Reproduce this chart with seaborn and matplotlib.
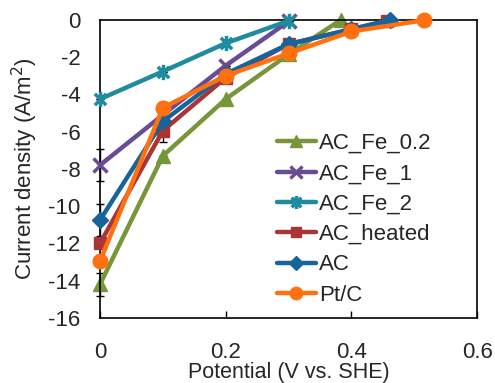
import matplotlib
matplotlib.use("Agg")
import matplotlib.pyplot as plt
import seaborn as sns
from matplotlib.path import Path

sns.set_style("white")
plt.rcParams["font.family"] = ["Liberation Sans", "DejaVu Sans"]

# ---- data ----
labels = ["AC_Fe_0.2", "AC_Fe_1", "AC_Fe_2", "AC_heated", "AC", "Pt/C"]

x_fe02 = [0.0, 0.1, 0.2, 0.3, 0.383]
y_fe02 = [-14.2, -7.3, -4.25, -1.85, 0.0]
e_fe02 = [0.6, 0.0, 0.0, 0.0, 0.0]

x_fe1 = [0.0, 0.1, 0.2, 0.3]
y_fe1 = [-7.8, -5.1, -2.45, -0.08]
e_fe1 = [0.85, 0.0, 0.0, 0.0]

x_fe2 = [0.0, 0.1, 0.2, 0.3]
y_fe2 = [-4.25, -2.77, -1.25, -0.05]
e_fe2 = [0.0, 0.0, 0.0, 0.0]

x_heat = [0.0, 0.1, 0.2, 0.3, 0.4, 0.457]
y_heat = [-12.0, -5.95, -3.1, -1.3, -0.5, -0.05]
e_heat = [0.0, 0.6, 0.0, 0.0, 0.0, 0.0]

x_ac = [0.0, 0.1, 0.2, 0.3, 0.4, 0.462]
y_ac = [-10.75, -5.45, -2.9, -1.3, -0.5, 0.0]
e_ac = [0.85, 0.0, 0.0, 0.0, 0.0, 0.0]

x_pt = [0.0, 0.1, 0.2, 0.3, 0.4, 0.515]
y_pt = [-12.95, -4.72, -3.0, -1.8, -0.62, -0.02]
e_pt = [0.0, 0.33, 0.0, 0.0, 0.0, 0.0]

x_ticks = [0, 0.2, 0.4, 0.6]
x_tick_labels = ["0", "0.2", "0.4", "0.6"]
y_ticks = [0, -2, -4, -6, -8, -10, -12, -14, -16]
y_tick_labels = ["0", "-2", "-4", "-6", "-8", "-10", "-12", "-14", "-16"]

colors = ["#77963A", "#6A4C93", "#1E8C9E", "#A93535", "#17639B", "#FF7010"]

asterisk = Path([(-1, -1), (1, 1), (-1, 1), (1, -1), (0, -1.35), (0, 1.35)],
                [Path.MOVETO, Path.LINETO, Path.MOVETO, Path.LINETO,
                 Path.MOVETO, Path.LINETO])
markers = ["^", "x", asterisk, "s", "D", "o"]
msizes = [10, 10, 11, 8.5, 8, 10.5]

series = [(x_fe02, y_fe02, e_fe02), (x_fe1, y_fe1, e_fe1), (x_fe2, y_fe2, e_fe2),
          (x_heat, y_heat, e_heat), (x_ac, y_ac, e_ac), (x_pt, y_pt, e_pt)]

fig = plt.figure(figsize=(4.95, 3.83), dpi=100)
ax = fig.add_axes([0.202, 0.170, 0.762, 0.778])

# error bars (drawn underneath)
for (xs, ys, es) in series:
    ax.errorbar(xs, ys, yerr=es, fmt="none", ecolor="black", elinewidth=1.0,
                capsize=3, capthick=1.0, zorder=1, clip_on=False)

for i, (xs, ys, es) in enumerate(series):
    mew = 2.5 if i in (1, 2) else 1.0
    sns.lineplot(x=xs, y=ys, ax=ax, color=colors[i], marker=markers[i],
                 markersize=msizes[i], markeredgewidth=mew,
                 markeredgecolor=colors[i], linewidth=3.2, label=labels[i],
                 clip_on=False, zorder=2 + i, sort=False)

ax.set_xlim(0, 0.6)
ax.set_ylim(-16, 0)
ax.set_xticks(x_ticks)
ax.set_xticklabels(x_tick_labels)
ax.set_yticks(y_ticks)
ax.set_yticklabels(y_tick_labels)
ax.tick_params(axis="x", direction="in", length=5, width=1, pad=17,
               labelsize=16, bottom=True, color="black")
ax.tick_params(axis="y", length=0, pad=14, labelsize=16, left=True)

for s in ax.spines.values():
    s.set_color("black")
    s.set_linewidth(1.2)

ax.set_xlabel("Potential (V vs. SHE)", fontsize=15.5, labelpad=-0.5)
ax.set_ylabel("Current density (A/m$^2$)", fontsize=16, labelpad=6)

leg = ax.legend(loc="upper left", bbox_to_anchor=(277 / 495, 1 - 133 / 383),
                bbox_transform=fig.transFigure, frameon=False, fontsize=16,
                handlelength=1.75, handletextpad=0.15, labelspacing=0.42,
                borderpad=0, borderaxespad=0)
for h in leg.legend_handles:
    h.set_markersize(h.get_markersize() * 0.85)

fig.savefig("out.png", dpi=100)
